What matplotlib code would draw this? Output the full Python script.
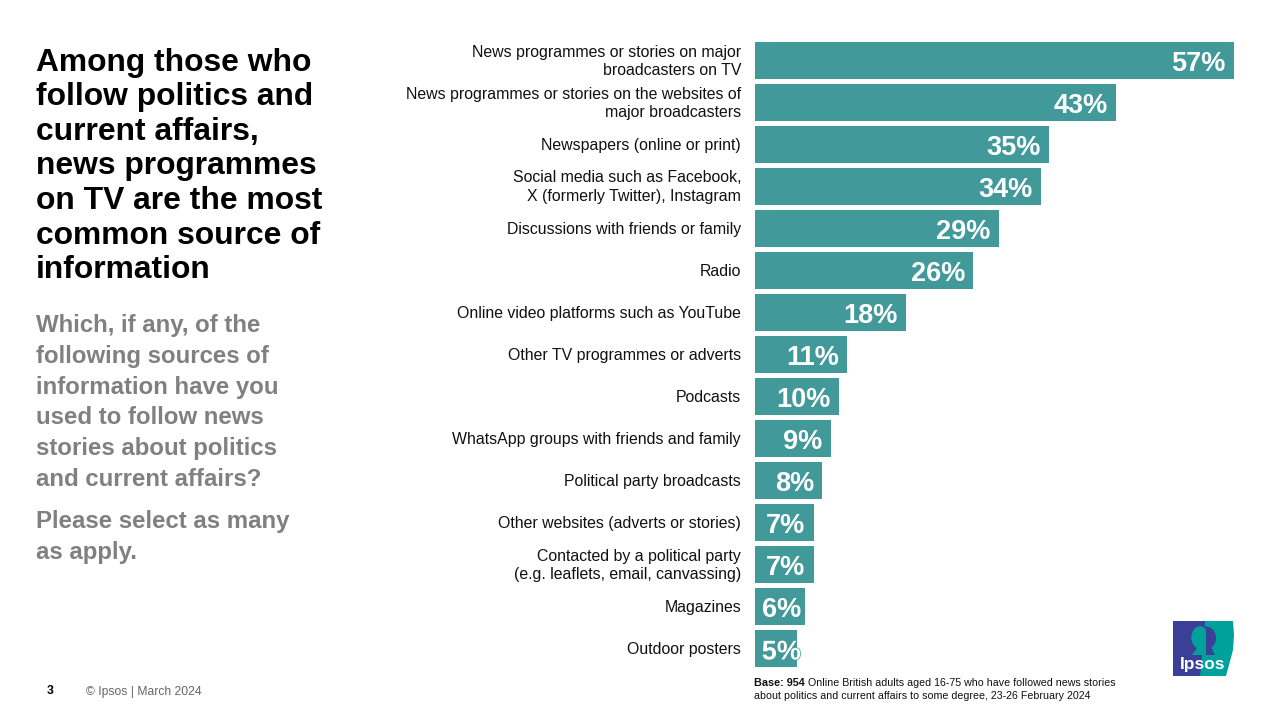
import matplotlib as mpl
mpl.use('Agg')
import matplotlib.pyplot as plt
from matplotlib import patheffects
from matplotlib.patches import Ellipse, Polygon
from matplotlib.transforms import ScaledTranslation

plt.rcParams['font.family'] = ['Liberation Sans', 'DejaVu Sans']

TEAL = '#41999a'
GREY = '#808080'
LOGO_BLUE = '#3c3f97'
LOGO_TEAL = '#00a19a'

categories = [
    'News programmes or stories on major\nbroadcasters on TV',
    'News programmes or stories on the websites of\nmajor broadcasters',
    'Newspapers (online or print)',
    'Social media such as Facebook,\nX (formerly Twitter), Instagram',
    'Discussions with friends or family',
    'Radio',
    'Online video platforms such as YouTube',
    'Other TV programmes or adverts',
    'Podcasts',
    'WhatsApp groups with friends and family',
    'Political party broadcasts',
    'Other websites (adverts or stories)',
    'Contacted by a political party\n(e.g. leaflets, email, canvassing)',
    'Magazines',
    'Outdoor posters',
]
values = [57, 43, 35, 34, 29, 26, 18, 11, 10, 9, 8, 7, 7, 6, 5]

title_lines = ['Among those who', 'follow politics and', 'current affairs,',
               'news programmes', 'on TV are the most', 'common source of',
               'information']
question_lines = ['Which, if any, of the', 'following sources of',
                  'information have you', 'used to follow news',
                  'stories about politics', 'and current affairs?']
select_lines = ['Please select as many', 'as apply.']

W, H = 1280, 720
fig = plt.figure(figsize=(12.8, 7.2), dpi=100, facecolor='white')

# bars live in an axes placed to match the slide, px -> figure fractions
ax = fig.add_axes([755 / W, 1 - 669.5 / H, 479 / W, 630 / H])
ax.patch.set_alpha(0)
ypos = list(range(len(values)))
ax.barh(ypos, values, height=0.9, color=TEAL)
ax.set_xlim(0, 57)
ax.set_ylim(len(values) - 0.5, -0.5)
ax.set_xticks([])
ax.set_yticks(ypos)
ax.set_yticklabels(categories, fontsize=11.45, color='#111111', linespacing=1.3)
ax.tick_params(axis='y', length=0, pad=10)
# two-line labels sit a bit high on the slide, nudge them up more than the others
for lab, name in zip(ax.get_yticklabels(), categories):
    nudge = 2.5 if '\n' in name else 0.5
    lab.set_transform(lab.get_transform() + ScaledTranslation(0, nudge / 100, fig.dpi_scale_trans))
for s in ax.spines.values():
    s.set_visible(False)

px_per_pct = 479 / 57
for y, v in zip(ypos, values):
    # labels sit 8px inside the bar end but never left of where they'd clip the axis
    right_px = max(v * px_per_pct - 8.3, 46)
    offset = (right_px - v * px_per_pct) * 0.72
    t = ax.annotate('%d%%' % v, (v, y), xytext=(offset, -0.7),
                    textcoords='offset points', ha='right', va='center_baseline',
                    color='white', fontweight='bold', fontsize=19.5,
                    annotation_clip=False)
    if v == 5:
        t.set_path_effects([patheffects.withStroke(linewidth=1, foreground=TEAL)])

# overlay in pixel coordinates for the slide text and logo
over = fig.add_axes([0, 0, 1, 1], zorder=-1)
over.set_xlim(0, W)
over.set_ylim(H, 0)
over.axis('off')

for i, line in enumerate(title_lines):
    over.text(36, 59 + i * 34.6, line, fontsize=22.9, fontweight='bold',
              color='black', va='center_baseline')
for i, line in enumerate(question_lines):
    over.text(36, 323 + i * 30.8, line, fontsize=17.3, fontweight='bold',
              color=GREY, va='center_baseline')
for i, line in enumerate(select_lines):
    over.text(36, 519 + i * 30.8, line, fontsize=17.3, fontweight='bold',
              color=GREY, va='center_baseline')

over.text(47, 690, '3', fontsize=8.8, fontweight='bold', color='black',
          va='center_baseline')
over.text(86, 690.5, '© Ipsos | March 2024', fontsize=8.7, color='#666666',
          va='center_baseline')

over.text(754, 682, 'Base: 954', fontsize=7.8, fontweight='bold', color='#111111',
          va='center_baseline')
over.text(808, 682, 'Online British adults aged 16-75 who have followed news stories',
          fontsize=7.7, color='#111111', va='center_baseline')
over.text(754, 695, 'about politics and current affairs to some degree, 23-26 February 2024',
          fontsize=7.7, color='#111111', va='center_baseline')

# logo
over.add_patch(Polygon([(1173, 621), (1206, 621), (1204, 640), (1201, 676), (1173, 676)],
                       closed=True, color=LOGO_BLUE, lw=0))
over.add_patch(Polygon([(1205, 621), (1233, 621), (1234, 635), (1233, 650), (1229, 665),
                        (1226, 676), (1200, 676), (1203, 650)],
                       closed=True, color=LOGO_TEAL, lw=0))
# head: teal hair on the blue side, blue face on the teal side
over.add_patch(Ellipse((1206, 638), 20, 23, color=LOGO_BLUE, lw=0, zorder=1.5))
over.add_patch(Ellipse((1200, 637.5), 17, 22, color=LOGO_TEAL, lw=0, zorder=1.4))
hair = Polygon([(1190, 620), (1206, 620), (1206, 650), (1190, 650)], closed=True,
               color=LOGO_TEAL, lw=0, zorder=1.6)
over.add_patch(hair)
hair.set_clip_path(Ellipse((1200, 637.5), 17, 22, transform=over.transData))
over.add_patch(Polygon([(1199, 645), (1206, 645), (1206, 655), (1192, 655)],
                       closed=True, color=LOGO_TEAL, lw=0, zorder=1.6))
over.add_patch(Polygon([(1206, 645), (1210, 645), (1215, 655), (1206, 655)],
                       closed=True, color=LOGO_BLUE, lw=0, zorder=1.6))
over.text(1203, 662.5, 'Ipsos', fontsize=12.5, fontweight='bold', color='white',
          ha='center', va='center_baseline', zorder=3)

fig.savefig('out.png', dpi=100, facecolor='white')
